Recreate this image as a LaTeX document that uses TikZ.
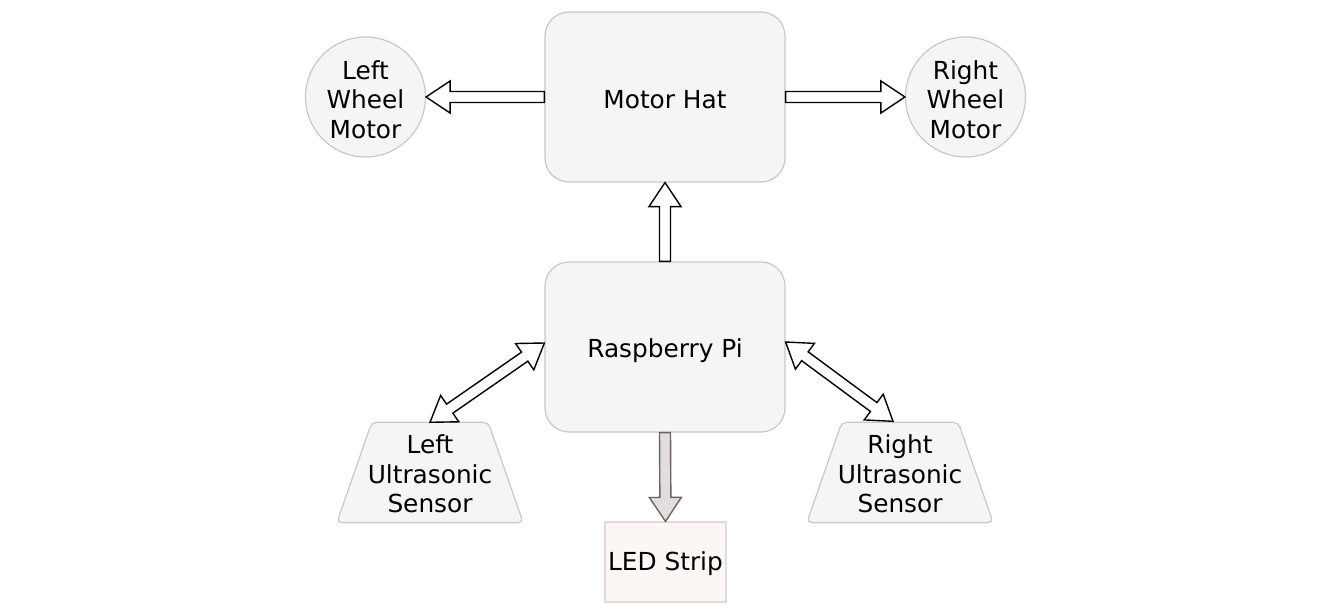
\documentclass[tikz,border=0pt]{standalone}
\usepackage{fontspec}
\setmainfont{DejaVu Sans}
\usetikzlibrary{calc,backgrounds}
\definecolor{boxfill}{HTML}{F5F5F5}
\definecolor{boxline}{HTML}{C8C8C8}
\definecolor{ledfill}{HTML}{FCF7F5}
\definecolor{ledline}{HTML}{E2DADA}
\definecolor{ledarrow}{HTML}{E3DEDE}
\definecolor{ledarrowline}{HTML}{6E6262}
\newcommand\fxw{5.5pt}
\newcommand\fxh{16pt}
\newcommand\fxL{24pt}
% single flex arrow: [fill]{draw}{from}{to}
\newcommand\fxarrow[4][white]{%
  \coordinate (fxb) at ($(#4)!\fxL!(#3)$);
  \filldraw[fill=#1, draw=#2, line width=1.4pt, line join=miter]
    ($(#3)!\fxw!90:(#4)$) -- ($(fxb)!\fxw!-90:(#3)$) -- ($(fxb)!\fxh!-90:(#3)$) -- (#4)
    -- ($(fxb)!\fxh!90:(#3)$) -- ($(fxb)!\fxw!90:(#3)$) -- ($(#3)!\fxw!-90:(#4)$) -- cycle;}
% double flex arrow
\newcommand\fxdarrow[2]{%
  \coordinate (fxa) at ($(#1)!\fxL!(#2)$);
  \coordinate (fxb) at ($(#2)!\fxL!(#1)$);
  \filldraw[fill=white, draw=black, line width=1.4pt, line join=miter]
    (#1) -- ($(fxa)!\fxh!90:(#2)$) -- ($(fxa)!\fxw!90:(#2)$) -- ($(fxb)!\fxw!-90:(#1)$)
    -- ($(fxb)!\fxh!-90:(#1)$) -- (#2) -- ($(fxb)!\fxh!90:(#1)$) -- ($(fxb)!\fxw!90:(#1)$)
    -- ($(fxa)!\fxw!-90:(#2)$) -- ($(fxa)!\fxh!-90:(#2)$) -- cycle;}
\begin{document}
\begin{tikzpicture}[x=1pt,y=-1pt,
  every node/.style={inner sep=0pt},
  txt/.style={font=\fontsize{24.8}{29.5}\selectfont, align=center, inner sep=0pt},
  blockbox/.style={draw=boxline, fill=boxfill, line width=1.2pt, rounded corners=24pt,
    minimum width=240pt, minimum height=170pt},
  wheel/.style={circle, draw=boxline, fill=boxfill, line width=1.2pt, minimum size=120pt},
  sensorbox/.style={minimum width=186pt, minimum height=100pt},
  trapez/.style={draw=boxline, fill=boxfill, line width=1.2pt, rounded corners=5pt},
  ledbox/.style={draw=ledline, fill=ledfill, line width=1.2pt, minimum width=121pt, minimum height=80pt}
]
\useasboundingbox (0,0) rectangle (1331,610);

\node[blockbox, label={[txt, yshift=-3pt]center:Motor Hat}] (mh) at (665,97) {};
\node[blockbox, label={[txt, yshift=-4pt]center:Raspberry Pi}] (rpi) at (665,347) {};
\node[wheel, label={[txt, yshift=-2.5pt]center:Left\\Wheel\\Motor}] (lw) at (365.5,97) {};
\node[wheel, label={[txt, yshift=-2.5pt]center:Right\\Wheel\\Motor}] (rw) at (965.5,97) {};
\node[ledbox, label={[txt, yshift=-2pt]center:LED Strip}] (led) at (665.5,562) {};
\node[sensorbox, label={[txt, yshift=-1.5pt]center:Left\\Ultrasonic\\Sensor}] (ls) at (430,472.5) {};
\node[sensorbox, label={[txt, yshift=-1.5pt]center:Right\\Ultrasonic\\Sensor}] (rs) at (900,472.5) {};

\begin{scope}[on background layer]
  \fill[white] (0,0) rectangle (1331,610);
  \draw[trapez] (ls.south west) -- ($(ls.north west)+(35,0)$) -- ($(ls.north east)+(-35,0)$) -- (ls.south east) -- cycle;
  \draw[trapez] (rs.south west) -- ($(rs.north west)+(35,0)$) -- ($(rs.north east)+(-35,0)$) -- (rs.south east) -- cycle;
\end{scope}

\coordinate (rpiL) at ($(rpi.west)+(0,-4)$);
\coordinate (rpiR) at ($(rpi.east)+(0,-5)$);
\coordinate (rsT) at ($(rs.north)+(-7,-1)$);

\fxarrow{black}{mh.west}{lw.east}
\fxarrow{black}{mh.east}{rw.west}
\fxarrow{black}{rpi.north}{mh.south}
\fxarrow[ledarrow]{ledarrowline}{rpi.south}{led.north}
\fxdarrow{rpiL}{ls.north}
\fxdarrow{rpiR}{rsT}
\end{tikzpicture}
\end{document}
